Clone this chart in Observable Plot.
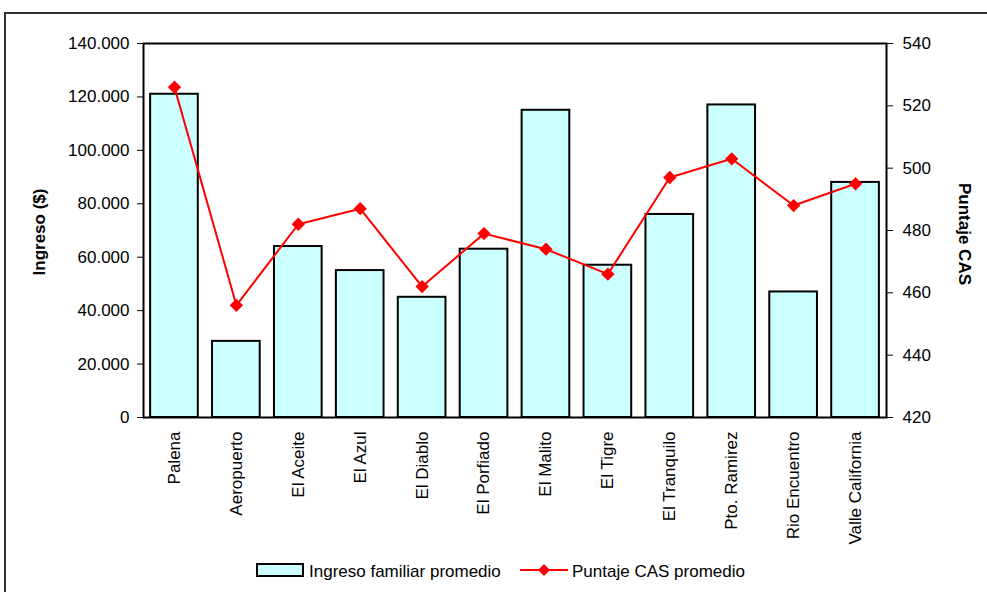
<!DOCTYPE html>
<html>
<head>
<meta charset="utf-8">
<script src="https://cdn.jsdelivr.net/npm/d3@7"></script>
<script src="https://cdn.jsdelivr.net/npm/@observablehq/plot@0.6"></script>
<style>
  html, body { margin: 0; padding: 0; background: #fff; }
  body { width: 987px; height: 592px; position: relative; overflow: hidden; font-family: "Liberation Sans", Arial, sans-serif; }
  #frame { position: absolute; left: 4px; top: 12px; width: 1000px; height: 600px; border-top: 2px solid #333; border-left: 2px solid #333; }
  #chart { position: absolute; left: 0; top: 0; }
  .ytitle { position: absolute; font-weight: bold; font-size: 17px; white-space: nowrap; color: #000; }
  #legend { position: absolute; left: 0; top: 0; }
</style>
</head>
<body>
<div id="frame"></div>
<div id="chart"></div>
<div class="ytitle" id="ltitle" style="left:40px; top:232px; transform: translate(-50%,-50%) rotate(-90deg);">Ingreso ($)</div>
<div class="ytitle" id="rtitle" style="left:964px; top:234px; transform: translate(-50%,-50%) rotate(90deg);">Puntaje CAS</div>
<svg id="legend" width="987" height="592" style="pointer-events:none">
  <rect x="257" y="564" width="46" height="12" fill="#ccffff" stroke="#000" stroke-width="2"></rect>
  <text x="309" y="577" font-size="17" font-family="Liberation Sans, Arial, sans-serif">Ingreso familiar promedio</text>
  <line x1="520" y1="570" x2="568" y2="570" stroke="#ff0000" stroke-width="2"></line>
  <path d="M544,564 L550,570 L544,576 L538,570 Z" fill="#ff0000"></path>
  <text x="572" y="577" font-size="17" font-family="Liberation Sans, Arial, sans-serif">Puntaje CAS promedio</text>
</svg>
<script>
const categories = ["Palena", "Aeropuerto", "El Aceite", "El Azul", "El Diablo", "El Porfiado", "El Malito", "El Tigre", "El Tranquilo", "Pto. Ramirez", "Rio Encuentro", "Valle California"];
const ingreso = [121000, 28500, 64000, 55000, 45000, 63000, 115000, 57000, 76000, 117000, 47000, 88000];
const puntaje = [526, 456, 482, 487, 462, 479, 474, 466, 497, 503, 488, 495];
const leftTicks = [0, 20000, 40000, 60000, 80000, 100000, 120000, 140000];
const rightTicks = [420, 440, 460, 480, 500, 520, 540];

const R0 = 420, R1 = 540, L1 = 140000;
const toLeft = v => (v - R0) / (R1 - R0) * L1;
const fromLeft = v => Math.round(R0 + v / L1 * (R1 - R0));
const fmtLeft = d => d3.format(",")(d).replace(/,/g, ".");

const bars = categories.map((c, i) => ({cat: c, v: ingreso[i]}));
const pts = categories.map((c, i) => ({cat: c, v: puntaje[i], y: toLeft(puntaje[i])}));

const plot = Plot.plot({
  width: 987,
  height: 592,
  marginLeft: 143,
  marginRight: 101,
  marginTop: 43,
  marginBottom: 175,
  style: {fontFamily: "Liberation Sans, Arial, sans-serif", fontSize: "17px", color: "#000", background: "transparent"},
  x: {type: "band", domain: categories, paddingInner: 0.23, paddingOuter: 0.115, round: false, label: null},
  y: {domain: [0, L1], label: null},
  marks: [
    Plot.barY(bars, {x: "cat", y: "v", fill: "#ccffff", stroke: "#000", strokeWidth: 2}),
    Plot.line(pts, {x: "cat", y: "y", stroke: "#ff0000", strokeWidth: 2}),
    Plot.dot(pts, {x: "cat", y: "y", symbol: "diamond2", fill: "#ff0000", stroke: "none", r: 6}),
    Plot.axisY({anchor: "left", ticks: leftTicks, tickFormat: fmtLeft, tickSize: 6, tickPadding: 8, label: null, fontSize: 17}),
    Plot.axisY({anchor: "right", ticks: rightTicks.map(toLeft), tickFormat: fromLeft, tickSize: 6, tickPadding: 10, label: null, fontSize: 17}),
    Plot.axisX({anchor: "bottom", tickRotate: -90, tickSize: 0, tickPadding: 14, label: null, fontSize: 17}),
    Plot.frame({stroke: "#000", strokeWidth: 2})
  ]
});
document.getElementById("chart").appendChild(plot);
</script>
</body>
</html>
